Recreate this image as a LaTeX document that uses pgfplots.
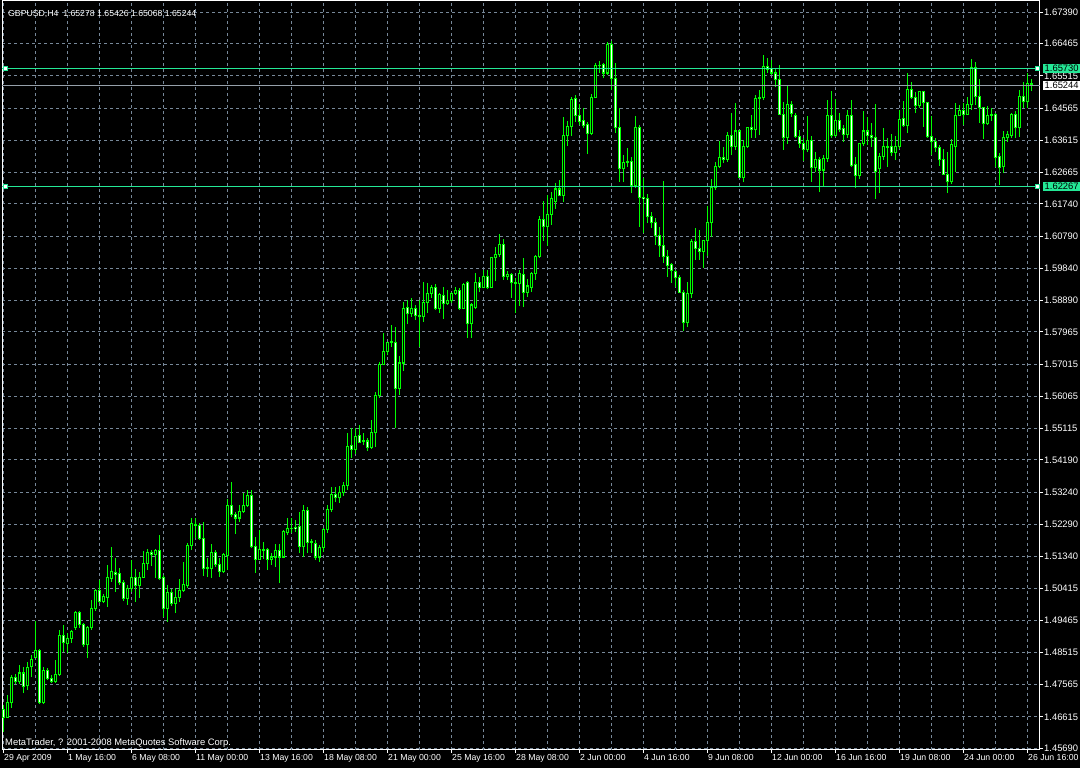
\documentclass[border=0pt]{standalone}
\usepackage{fontspec}
\setmainfont{Liberation Sans}
\usepackage{pgfplots}
\usepackage{pgfplotstable}
\pgfplotsset{compat=1.18}
\definecolor{cdl}{RGB}{0,255,0}
\definecolor{gridc}{RGB}{119,136,153}
\definecolor{lvl}{RGB}{36,232,150}
\definecolor{pricel}{RGB}{150,160,170}
\newcommand{\lblfont}{\fontsize{9.4}{11}\selectfont}
\newcommand{\xlblfont}{\fontsize{8.7}{10}\selectfont}

\pgfplotstableread{
i o h l c
0 1.4682 1.4697 1.4617 1.4661
1 1.4661 1.4726 1.4658 1.4703
2 1.4703 1.4785 1.4688 1.4779
3 1.4779 1.4788 1.4759 1.4765
4 1.4765 1.4815 1.4759 1.4791
5 1.4791 1.4809 1.4732 1.4750
6 1.4753 1.4824 1.4741 1.4806
7 1.4809 1.4844 1.4779 1.4832
8 1.4838 1.4944 1.4835 1.4856
9 1.4856 1.4862 1.4700 1.4703
10 1.4703 1.4809 1.4700 1.4797
11 1.4797 1.4806 1.4770 1.4776
12 1.4776 1.4785 1.4762 1.4767
13 1.4767 1.4829 1.4762 1.4788
14 1.4788 1.4918 1.4782 1.4903
15 1.4903 1.4933 1.4853 1.4880
16 1.4877 1.4909 1.4850 1.4894
17 1.4894 1.4918 1.4880 1.4912
18 1.4924 1.4974 1.4918 1.4968
19 1.4968 1.4974 1.4924 1.4933
20 1.4933 1.4939 1.4868 1.4874
21 1.4874 1.4930 1.4835 1.4924
22 1.4924 1.5006 1.4918 1.4980
23 1.4980 1.5039 1.4974 1.5033
24 1.5033 1.5065 1.4997 1.5003
25 1.5003 1.5024 1.4997 1.5018
26 1.5015 1.5110 1.4986 1.5074
27 1.5071 1.5163 1.5059 1.5089
28 1.5086 1.5130 1.5030 1.5080
29 1.5083 1.5101 1.5050 1.5059
30 1.5059 1.5065 1.5003 1.5012
31 1.5012 1.5050 1.4992 1.5039
32 1.5039 1.5124 1.5030 1.5074
33 1.5074 1.5098 1.5000 1.5050
34 1.5050 1.5089 1.5012 1.5074
35 1.5074 1.5151 1.5071 1.5115
36 1.5115 1.5157 1.5095 1.5145
37 1.5145 1.5154 1.5107 1.5139
38 1.5139 1.5157 1.5071 1.5151
39 1.5151 1.5198 1.5065 1.5071
40 1.5074 1.5080 1.4956 1.4980
41 1.4980 1.5050 1.4941 1.5027
42 1.5027 1.5039 1.4989 1.4997
43 1.4997 1.5042 1.4968 1.5015
44 1.5015 1.5068 1.5000 1.5033
45 1.5033 1.5118 1.5030 1.5053
46 1.5050 1.5174 1.5042 1.5168
47 1.5168 1.5248 1.5154 1.5233
48 1.5230 1.5248 1.5189 1.5227
49 1.5227 1.5233 1.5183 1.5189
50 1.5189 1.5236 1.5077 1.5098
51 1.5101 1.5130 1.5074 1.5098
52 1.5098 1.5171 1.5071 1.5145
53 1.5145 1.5154 1.5104 1.5112
54 1.5112 1.5130 1.5074 1.5089
55 1.5089 1.5145 1.5086 1.5139
56 1.5136 1.5304 1.5095 1.5286
57 1.5286 1.5354 1.5251 1.5257
58 1.5257 1.5266 1.5201 1.5248
59 1.5248 1.5286 1.5236 1.5266
60 1.5266 1.5322 1.5263 1.5286
61 1.5286 1.5331 1.5280 1.5313
62 1.5313 1.5331 1.5160 1.5163
63 1.5163 1.5192 1.5086 1.5127
64 1.5127 1.5213 1.5124 1.5154
65 1.5154 1.5177 1.5127 1.5151
66 1.5154 1.5160 1.5095 1.5127
67 1.5127 1.5145 1.5110 1.5133
68 1.5133 1.5171 1.5104 1.5151
69 1.5151 1.5171 1.5056 1.5133
70 1.5133 1.5213 1.5130 1.5207
71 1.5204 1.5248 1.5198 1.5216
72 1.5216 1.5248 1.5204 1.5218
73 1.5221 1.5242 1.5207 1.5216
74 1.5224 1.5266 1.5145 1.5163
75 1.5163 1.5286 1.5133 1.5269
76 1.5269 1.5280 1.5145 1.5177
77 1.5180 1.5186 1.5145 1.5177
78 1.5174 1.5183 1.5124 1.5133
79 1.5133 1.5168 1.5118 1.5160
80 1.5160 1.5219 1.5148 1.5213
81 1.5213 1.5286 1.5204 1.5272
82 1.5272 1.5340 1.5266 1.5316
83 1.5316 1.5340 1.5295 1.5307
84 1.5307 1.5342 1.5292 1.5322
85 1.5322 1.5354 1.5313 1.5345
86 1.5345 1.5499 1.5331 1.5460
87 1.5463 1.5513 1.5425 1.5451
88 1.5451 1.5513 1.5437 1.5487
89 1.5490 1.5522 1.5469 1.5472
90 1.5475 1.5499 1.5463 1.5476
91 1.5475 1.5484 1.5446 1.5457
92 1.5457 1.5537 1.5451 1.5499
93 1.5499 1.5620 1.5457 1.5608
94 1.5608 1.5708 1.5602 1.5702
95 1.5702 1.5794 1.5699 1.5740
96 1.5740 1.5767 1.5729 1.5764
97 1.5764 1.5817 1.5752 1.5767
98 1.5764 1.5811 1.5513 1.5631
99 1.5631 1.5726 1.5611 1.5705
100 1.5705 1.5885 1.5681 1.5867
101 1.5870 1.5891 1.5820 1.5850
102 1.5850 1.5897 1.5841 1.5867
103 1.5867 1.5876 1.5832 1.5844
104 1.5844 1.5891 1.5752 1.5841
105 1.5841 1.5944 1.5826 1.5882
106 1.5882 1.5941 1.5853 1.5911
107 1.5911 1.5935 1.5897 1.5929
108 1.5929 1.5938 1.5861 1.5867
109 1.5867 1.5911 1.5853 1.5906
110 1.5903 1.5929 1.5835 1.5879
111 1.5879 1.5920 1.5876 1.5888
112 1.5888 1.5914 1.5882 1.5911
113 1.5911 1.5929 1.5906 1.5920
114 1.5920 1.5926 1.5861 1.5867
115 1.5867 1.5941 1.5864 1.5935
116 1.5941 1.5947 1.5779 1.5820
117 1.5820 1.5882 1.5779 1.5876
118 1.5870 1.5971 1.5864 1.5941
119 1.5941 1.5959 1.5914 1.5929
120 1.5929 1.5979 1.5926 1.5959
121 1.5959 1.5979 1.5923 1.5929
122 1.5929 1.6018 1.5926 1.6015
123 1.6015 1.6047 1.5947 1.6024
124 1.6024 1.6085 1.6018 1.6053
125 1.6053 1.6071 1.5950 1.5959
126 1.5959 1.5976 1.5950 1.5965
127 1.5965 1.5971 1.5897 1.5941
128 1.5941 1.5956 1.5853 1.5938
129 1.5938 1.5979 1.5873 1.5970
130 1.5965 1.6015 1.5870 1.5914
131 1.5914 1.5953 1.5900 1.5932
132 1.5929 1.5973 1.5914 1.5968
133 1.5968 1.6024 1.5950 1.6018
134 1.6018 1.6138 1.6015 1.6127
135 1.6127 1.6183 1.6065 1.6106
136 1.6106 1.6200 1.6050 1.6144
137 1.6144 1.6209 1.6112 1.6191
138 1.6180 1.6236 1.6159 1.6218
139 1.6218 1.6245 1.6197 1.6200
140 1.6200 1.6430 1.6180 1.6377
141 1.6377 1.6419 1.6345 1.6401
142 1.6401 1.6489 1.6374 1.6483
143 1.6486 1.6495 1.6416 1.6436
144 1.6436 1.6469 1.6407 1.6416
145 1.6419 1.6457 1.6398 1.6404
146 1.6407 1.6416 1.6321 1.6383
147 1.6383 1.6498 1.6377 1.6489
148 1.6489 1.6590 1.6486 1.6581
149 1.6581 1.6596 1.6560 1.6582
150 1.6584 1.6590 1.6545 1.6560
151 1.6560 1.6651 1.6554 1.6643
152 1.6643 1.6654 1.6510 1.6545
153 1.6545 1.6590 1.6383 1.6398
154 1.6398 1.6457 1.6239 1.6277
155 1.6277 1.6318 1.6239 1.6295
156 1.6295 1.6339 1.6283 1.6298
157 1.6298 1.6312 1.6206 1.6227
158 1.6227 1.6433 1.6221 1.6398
159 1.6398 1.6407 1.6106 1.6194
160 1.6194 1.6250 1.6088 1.6189
161 1.6189 1.6203 1.6118 1.6136
162 1.6138 1.6150 1.6103 1.6118
163 1.6118 1.6133 1.6053 1.6080
164 1.6080 1.6106 1.6018 1.6050
165 1.6050 1.6242 1.6000 1.6018
166 1.6018 1.6038 1.5959 1.5991
167 1.5994 1.6000 1.5941 1.5979
168 1.5976 1.5979 1.5929 1.5956
169 1.5956 1.5965 1.5911 1.5914
170 1.5914 1.5920 1.5799 1.5823
171 1.5823 1.5944 1.5811 1.5911
172 1.5911 1.6071 1.5897 1.6062
173 1.6062 1.6103 1.6009 1.6044
174 1.6044 1.6097 1.6009 1.6035
175 1.6035 1.6068 1.5985 1.6065
176 1.6065 1.6168 1.6021 1.6118
177 1.6118 1.6248 1.6077 1.6221
178 1.6221 1.6298 1.6215 1.6283
179 1.6283 1.6360 1.6280 1.6312
180 1.6312 1.6342 1.6295 1.6306
181 1.6306 1.6386 1.6298 1.6377
182 1.6377 1.6442 1.6318 1.6342
183 1.6342 1.6472 1.6333 1.6389
184 1.6389 1.6392 1.6250 1.6253
185 1.6253 1.6363 1.6239 1.6342
186 1.6342 1.6401 1.6339 1.6398
187 1.6398 1.6436 1.6369 1.6392
188 1.6392 1.6495 1.6369 1.6486
189 1.6486 1.6510 1.6377 1.6487
190 1.6487 1.6613 1.6480 1.6578
191 1.6578 1.6604 1.6560 1.6569
192 1.6572 1.6598 1.6554 1.6560
193 1.6560 1.6575 1.6519 1.6542
194 1.6542 1.6584 1.6436 1.6439
195 1.6439 1.6475 1.6333 1.6369
196 1.6369 1.6522 1.6351 1.6466
197 1.6466 1.6478 1.6430 1.6442
198 1.6436 1.6442 1.6369 1.6372
199 1.6374 1.6392 1.6339 1.6351
200 1.6351 1.6369 1.6301 1.6333
201 1.6333 1.6433 1.6327 1.6360
202 1.6360 1.6374 1.6239 1.6280
203 1.6280 1.6327 1.6268 1.6304
204 1.6304 1.6312 1.6209 1.6274
205 1.6274 1.6318 1.6224 1.6309
206 1.6309 1.6480 1.6298 1.6436
207 1.6436 1.6507 1.6369 1.6377
208 1.6377 1.6483 1.6372 1.6419
209 1.6419 1.6442 1.6386 1.6392
210 1.6395 1.6407 1.6357 1.6380
211 1.6380 1.6451 1.6369 1.6436
212 1.6436 1.6480 1.6283 1.6286
213 1.6289 1.6312 1.6221 1.6259
214 1.6259 1.6354 1.6248 1.6351
215 1.6351 1.6448 1.6345 1.6389
216 1.6389 1.6430 1.6348 1.6377
217 1.6377 1.6413 1.6342 1.6369
218 1.6369 1.6469 1.6189 1.6271
219 1.6277 1.6324 1.6206 1.6315
220 1.6315 1.6398 1.6304 1.6342
221 1.6342 1.6369 1.6283 1.6339
222 1.6342 1.6380 1.6315 1.6327
223 1.6327 1.6374 1.6304 1.6342
224 1.6342 1.6451 1.6336 1.6424
225 1.6427 1.6478 1.6401 1.6404
226 1.6404 1.6560 1.6383 1.6510
227 1.6510 1.6533 1.6483 1.6489
228 1.6489 1.6504 1.6442 1.6463
229 1.6463 1.6507 1.6457 1.6504
230 1.6504 1.6507 1.6401 1.6472
231 1.6472 1.6475 1.6369 1.6372
232 1.6372 1.6433 1.6318 1.6357
233 1.6357 1.6369 1.6327 1.6339
234 1.6339 1.6348 1.6286 1.6304
235 1.6306 1.6336 1.6259 1.6262
236 1.6262 1.6327 1.6206 1.6239
237 1.6239 1.6366 1.6233 1.6348
238 1.6342 1.6472 1.6268 1.6436
239 1.6436 1.6466 1.6433 1.6448
240 1.6448 1.6472 1.6407 1.6439
241 1.6439 1.6489 1.6436 1.6466
242 1.6466 1.6601 1.6451 1.6575
243 1.6575 1.6593 1.6466 1.6492
244 1.6492 1.6542 1.6413 1.6457
245 1.6457 1.6460 1.6366 1.6410
246 1.6410 1.6463 1.6407 1.6436
247 1.6436 1.6457 1.6419 1.6437
248 1.6437 1.6442 1.6283 1.6312
249 1.6315 1.6324 1.6230 1.6280
250 1.6283 1.6389 1.6265 1.6369
251 1.6369 1.6389 1.6357 1.6380
252 1.6377 1.6442 1.6369 1.6439
253 1.6439 1.6448 1.6369 1.6398
254 1.6398 1.6510 1.6372 1.6492
255 1.6492 1.6533 1.6457 1.6475
256 1.6475 1.6560 1.6457 1.6528
257 1.65278 1.65426 1.65068 1.65244
}\data

\begin{document}
\begin{tikzpicture}
\fill[black, use as bounding box] (0,0) rectangle (1080pt,768pt);
\begin{axis}[
  at={(2pt,18pt)}, anchor=south west,
  scale only axis, width=1038pt, height=749pt,
  xmin=-0.375, xmax=259.125, ymin=1.45640, ymax=1.67723,
  axis line style={draw=white, line width=1pt},
  grid=major,
  major grid style={draw=gridc, line width=1pt, dash pattern=on 3pt off 3pt},
  tick align=outside, major tick length=3pt,
  tick style={draw=white, line width=1pt},
  xtick pos=left, ytick pos=right, yticklabel pos=right,
  /pgf/number format/assume math mode=true,
  tick label style={text=white, font=\lblfont, inner sep=0pt},
  xtick={0,16,...,256},
  xticklabels={29 Apr 2009, 1 May 16:00, 6 May 08:00, 11 May 00:00, 13 May 16:00, 18 May 08:00, 21 May 00:00, 25 May 16:00, 28 May 08:00, 2 Jun 00:00, 4 Jun 16:00, 9 Jun 08:00, 12 Jun 00:00, 16 Jun 16:00, 19 Jun 08:00, 24 Jun 00:00, 26 Jun 16:00},
  xticklabel style={anchor=north west, xshift=0.5pt, yshift=-1.5pt, font=\xlblfont},
  extra x ticks={8,24,...,248},
  extra x tick labels={},
  extra x tick style={major tick length=0pt, xmajorgrids=true},
  ytick={1.45690,1.46615,1.47565,1.48515,1.49465,1.50415,1.51340,1.52290,1.53240,1.54190,1.55115,1.56065,1.57015,1.57965,1.58890,1.59840,1.60790,1.61740,1.62665,1.63615,1.64565,1.65515,1.66465,1.67390},
  yticklabels={1.45690,1.46615,1.47565,1.48515,1.49465,1.50415,1.51340,1.52290,1.53240,1.54190,1.55115,1.56065,1.57015,1.57965,1.58890,1.59840,1.60790,1.61740,1.62665,1.63615,1.64565,1.65515,1.66465,1.67390},
  yticklabel style={anchor=west, xshift=1pt},
  unbounded coords=discard,
]
% wicks
\addplot[cdl, line width=1pt, quiver={u=0, v=\thisrow{h}-\thisrow{l}}]
  table[x=i, y=l] {\data};
% body outlines
\addplot[cdl, line width=3pt, quiver={u=0, v={abs(\thisrow{c}-\thisrow{o})+0.0003}}]
  table[x=i, y expr={min(\thisrow{o},\thisrow{c})-0.00015}] {\data};
% bull interiors (black)
\addplot[black, line width=1pt, quiver={u=0, v={abs(\thisrow{c}-\thisrow{o})-0.0003}}]
  table[x=i, y expr={(\thisrow{c}-\thisrow{o}>0.0004) ? (\thisrow{o}+0.00015) : nan}] {\data};
% bear interiors (white)
\addplot[white, line width=1pt, quiver={u=0, v={abs(\thisrow{c}-\thisrow{o})-0.0003}}]
  table[x=i, y expr={(\thisrow{o}-\thisrow{c}>0.0004) ? (\thisrow{c}+0.00015) : nan}] {\data};
% level lines
\addplot[lvl, line width=1pt] coordinates {(-1,1.65730) (260,1.65730)};
\addplot[lvl, line width=1pt] coordinates {(-1,1.62267) (260,1.62267)};
\addplot[pricel, line width=1pt] coordinates {(-1,1.65244) (260,1.65244)};
\addplot[only marks, mark=square*, mark size=2pt, mark options={fill=white, draw=lvl, line width=1pt}]
  coordinates {(0.375,1.65730) (258.5,1.65730) (0.375,1.62267) (258.5,1.62267)};
\coordinate (b1) at (axis cs:259.125,1.65730);
\coordinate (b2) at (axis cs:259.125,1.65244);
\coordinate (b3) at (axis cs:259.125,1.62267);
\end{axis}
\node[fill=lvl, text=black, anchor=west, inner xsep=1.5pt, inner ysep=0pt, minimum height=9pt, font=\lblfont] at ([xshift=3pt]b1) {1.65730};
\node[fill=white, text=black, anchor=west, inner xsep=1.5pt, inner ysep=0pt, minimum height=9pt, font=\lblfont] at ([xshift=3pt]b2) {1.65244};
\node[fill=lvl, text=black, anchor=west, inner xsep=1.5pt, inner ysep=0pt, minimum height=9pt, font=\lblfont] at ([xshift=3pt]b3) {1.62267};
\node[anchor=base west, text=white, font=\xlblfont, inner sep=0pt] at (8pt,751.5pt) {GBPUSD,H4\ \ 1.65278 1.65426 1.65068 1.65244};
\node[anchor=base west, text=white, font=\lblfont, inner sep=0pt] at (5pt,22pt) {MetaTrader, ? 2001-2008 MetaQuotes Software Corp.};
\end{tikzpicture}
\end{document}
